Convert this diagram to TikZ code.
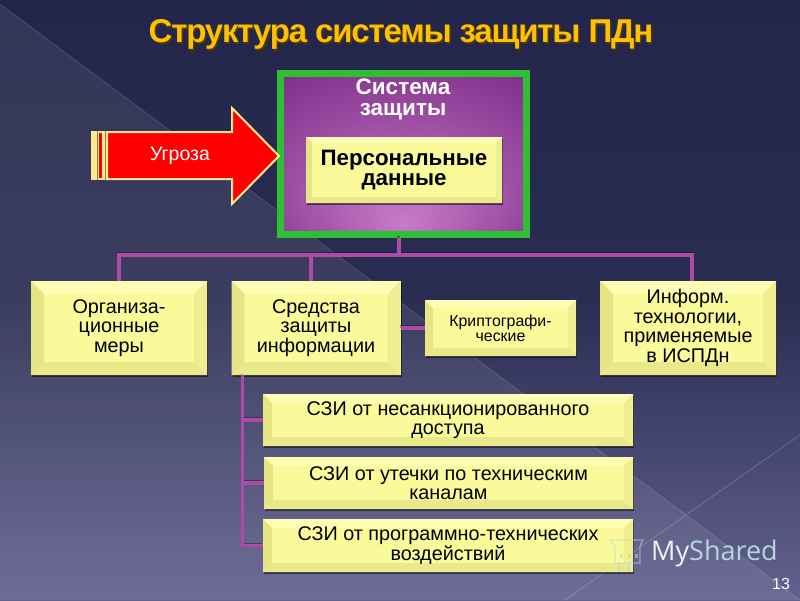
\documentclass[tikz,border=0pt]{standalone}
\usepackage{fontspec}
\setmainfont{Liberation Sans}
\newfontfamily\markfont{Open Sans}
\usetikzlibrary{positioning,shadows,calc}
\definecolor{bgtop}{HTML}{23264A}
\definecolor{bgmid}{HTML}{2A2D52}
\definecolor{bgbot}{HTML}{62618F}
\definecolor{face}{HTML}{FBFA9A}
\definecolor{bevelleft}{HTML}{E6E586}
\definecolor{bevelright}{HTML}{EFEE90}
\definecolor{bevelbottom}{HTML}{E9E88A}
\definecolor{beveltop}{HTML}{FDFDB4}
\definecolor{link}{HTML}{B04AA8}
\definecolor{glowin}{HTML}{C67CC8}
\definecolor{glowout}{HTML}{7C2C88}
\definecolor{sysgreen}{HTML}{2FBF33}
\definecolor{pale}{HTML}{FFE98F}
\definecolor{titlegold}{HTML}{FFC000}
\definecolor{markblue}{HTML}{B4D6DC}
\pgfdeclareradialshading{sysglow}{\pgfpoint{0bp}{-22bp}}{color(0bp)=(glowin); color(40bp)=(glowout); color(50bp)=(glowout)}
\begin{document}
\begin{tikzpicture}[
		x=1pt,y=-1pt,
		bevelbox/.style={
			fill=face,
			align=center,
			inner sep=0pt,
			font=\fontsize{19.8}{19.5}\selectfont,
			drop shadow={shadow xshift=1pt,shadow yshift=-1.5pt,fill=black,opacity=.5},
			path picture={
				\coordinate (sw) at (path picture bounding box.south west);
				\coordinate (ne) at (path picture bounding box.north east);
				\coordinate (nw) at (path picture bounding box.north west);
				\coordinate (se) at (path picture bounding box.south east);
				\fill[beveltop] (nw) -- (ne) -- ++(-#1pt,-#1pt) -- ($(nw)+(#1pt,-#1pt)$) -- cycle;
				\fill[bevelleft] (nw) -- (sw) -- ++(#1pt,#1pt) -- ($(nw)+(#1pt,-#1pt)$) -- cycle;
				\fill[bevelright] (ne) -- (se) -- ++(-#1pt,#1pt) -- ($(ne)+(-#1pt,-#1pt)$) -- cycle;
				\fill[bevelbottom] (sw) -- (se) -- ++(-#1pt,#1pt) -- ($(sw)+(#1pt,#1pt)$) -- cycle;
			},
		},
		bevelbox/.default=13,
		link/.style={
			draw=link,
			line width=3.2pt,
			preaction={draw=black,opacity=.35,line width=2.4pt,transform canvas={xshift=-.6pt,yshift=1.6pt}},
		},
		whitetext/.style={text=white,align=center,inner sep=0pt},
		]
		% Background
		\shade[top color=bgtop,bottom color=bgbot,middle color=bgmid] (0,0) rectangle (800,600);
		\useasboundingbox (0,0) rectangle (800,600);
		\fill[white,opacity=.08] (0,4) -- (800,600) -- (0,600) -- cycle;
		\draw[white,opacity=.14,line width=.8pt] (0,4) -- (800,600);
		\draw[white,opacity=.2,line width=.8pt] (800,435) -- (565,600);
		% Title
		\node[text=black!70!titlegold,font=\fontsize{33}{36}\bfseries\addfontfeature{LetterSpace=-3.6},inner sep=0pt] (titleshadow) at (402.5,36) {Структура системы защиты ПДн};
		\node[text=titlegold,font=\fontsize{33}{36}\bfseries\addfontfeature{LetterSpace=-3.6},inner sep=0pt] (title) at (401,34) {Структура системы защиты ПДн};
		% Protected system
		\node[draw=sysgreen,line width=7pt,shading=sysglow,minimum width=246pt,minimum height=161pt,inner sep=0pt] (sys) at (403.5,154) {};
		\node[whitetext,font=\fontsize{22.5}{21}\bfseries] (systext) at (403,99.5) {Система\\защиты};
		\node[bevelbox=6,minimum width=196pt,minimum height=66pt,font=\fontsize{22.3}{20.5}\bfseries] (pd) at (404,170) {Персональные\\данные};
		% Threat arrow
		\fill[pale] (91,131) rectangle (107,180);
		\fill[red] (99,133) rectangle (102,178);
		\foreach \px in {97,105}
			\draw[black!45!pale,line width=.6pt] (\px,131) -- (\px,180);
		\draw[fill=red,draw=pale,line width=2pt] (107,132) -- (232,132) -- (232,108) -- (279,156) -- (232,204) -- (232,179) -- (107,179) -- cycle;
		\node[whitetext,font=\fontsize{19.5}{20}\selectfont] (threat) at (180,156) {Угроза};
		% Boxes
		\node[bevelbox,minimum width=176pt,minimum height=94pt] (org) at (119,328) {Организа-\\ционные\\меры};
		\node[bevelbox,minimum width=169pt,minimum height=94pt] (tools) at (316,328) {Средства\\защиты\\информации};
		\node[bevelbox=8,minimum width=151pt,minimum height=56pt,font=\fontsize{15.9}{15}\selectfont] (crypto) at (500.5,328) {Криптографи-\\ческие};
		\node[bevelbox,minimum width=176pt,minimum height=94pt] (inform) at (688,328) {Информ.\\технологии,\\применяемые\\в ИСПДн};
		\node[bevelbox=9,minimum width=370pt,minimum height=52pt] (szia) at (448,420) {СЗИ от несанкционированного\\доступа};
		\node[bevelbox=9,minimum width=369pt,minimum height=52pt] (szib) at (448.5,483) {СЗИ от утечки по техническим\\каналам};
		\node[bevelbox=9,minimum width=370pt,minimum height=53pt] (szic) at (448,545.5) {СЗИ от программно-технических\\воздействий};
		% System -> Boxes
		\coordinate (fork) at (399,255);
		\coordinate (busend) at ([xshift=11.5pt]tools.south west);
		\draw[link] ([xshift=-4.5pt]sys.south) -- (fork)
			(org.north) |- (fork)
			([xshift=-5pt]tools.north) |- (fork)
			([xshift=4pt]inform.north) |- (fork);
		% Tools -> Crypto
		\draw[link] (tools.east) -- (crypto.west);
		% Tools -> SZI
		\draw[link] (busend) |- (szia.west)
			(busend) |- (szib.west)
			(busend) |- (szic.west);
		% Watermark
		\node[text=white!90!bgbot,font=\markfont\fontsize{27}{30}\selectfont,inner sep=0pt,anchor=west] (mark) at (651,553) {My\textcolor{markblue}{Shared}};
		\draw[markblue,opacity=.55,line width=1.4pt] (610,540) -- (643,540) -- (640,546) -- (640,563) -- (615,563) -- (615,546) -- cycle;
		\foreach \px in {620,628,635}
			\fill[markblue,opacity=.55] (\px,558) rectangle ++(3,-4);
		\foreach \px in {619,629}
			\draw[markblue,opacity=.55,line width=1.4pt] (\px,563) -- ++(0,9);
		% Slide number
		\node[whitetext,font=\fontsize{16}{17}\selectfont] (slideno) at (781,584) {13};
	\end{tikzpicture}
\end{document}
